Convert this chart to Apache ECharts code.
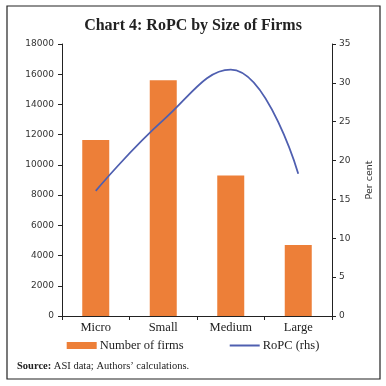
<!DOCTYPE html>
<html><head><meta charset="utf-8">
<style>html,body{margin:0;padding:0;background:#fff}#c{width:386px;height:386px}</style>
<script src="https://cdn.jsdelivr.net/npm/echarts@6/dist/echarts.min.js"></script>
</head><body><div id="c"></div>
<script>
const categories = ['Micro', 'Small', 'Medium', 'Large'];
const numberOfFirms = [11650, 15600, 9300, 4700];
const ropc = [16.1, 25.2, 31.7, 18.3];
const leftTicks = [0, 2000, 4000, 6000, 8000, 10000, 12000, 14000, 16000, 18000];
const rightTicks = [0, 5, 10, 15, 20, 25, 30, 35];

const chart = echarts.init(document.getElementById('c'), null, {renderer: 'canvas'});
const axisCol = '#222';
const serif = '"Liberation Serif", "DejaVu Serif", serif';
const sans = '"DejaVu Sans", sans-serif';
chart.setOption({
  animation: false,
  title: {
    text: 'Chart 4: RoPC by Size of Firms',
    left: 'center', top: 13,
    textStyle: {fontFamily: serif, fontWeight: 'bold', fontSize: 16, color: '#222'}
  },
  graphic: [
    {type: 'rect', shape: {x: 7, y: 6, width: 373, height: 373},
     style: {fill: 'none', stroke: '#222', lineWidth: 1.2}},
    {type: 'text', left: 17, top: 361,
     style: {text: '{b|Source:} ASI data; Authors\u2019 calculations.',
       rich: {b: {fontWeight: 'bold', fontFamily: serif, fontSize: 10.5, fill: '#222'}},
       fontFamily: serif, fontSize: 10.5, fill: '#222'}}
  ],
  legend: {
    bottom: 29, left: 'center', itemGap: 46, itemWidth: 30, itemHeight: 7,
    textStyle: {fontFamily: serif, fontSize: 12.5, color: '#222', padding: [0, 0, 0, -2]},
    data: [
      {name: 'Number of firms', icon: 'rect'},
      {name: 'RoPC (rhs)', icon: 'path://M0,0 L30,0 L30,2 L0,2 Z'}
    ]
  },
  grid: {left: 62, right: 54, top: 44, bottom: 70},
  xAxis: {
    type: 'category', data: categories,
    axisLine: {lineStyle: {color: axisCol}},
    axisTick: {show: true, alignWithLabel: false, length: 4, lineStyle: {color: axisCol}},
    axisLabel: {fontFamily: serif, fontSize: 12.5, color: '#222', margin: 5}
  },
  yAxis: [
    {type: 'value', min: 0, max: 18000, interval: 2000,
     axisLine: {show: true, lineStyle: {color: axisCol}},
     axisTick: {show: true, length: 4, lineStyle: {color: axisCol}},
     splitLine: {show: false},
     axisLabel: {fontFamily: sans, fontSize: 9, color: '#333', margin: 8,
       formatter: v => leftTicks.includes(v) ? String(v) : ''}},
    {type: 'value', min: 0, max: 35, interval: 5, position: 'right',
     name: 'Per cent', nameLocation: 'middle', nameGap: 33, nameRotate: 90,
     nameTextStyle: {fontFamily: sans, fontSize: 9.5, color: '#333'},
     axisLine: {show: true, lineStyle: {color: axisCol}},
     axisTick: {show: true, length: 4, lineStyle: {color: axisCol}},
     splitLine: {show: false},
     axisLabel: {fontFamily: sans, fontSize: 9, color: '#333', margin: 7,
       formatter: v => rightTicks.includes(v) ? String(v) : ''}}
  ],
  series: [
    {name: 'Number of firms', type: 'bar', data: numberOfFirms, barWidth: 27,
     itemStyle: {color: '#ED7F38'}},
    {name: 'RoPC (rhs)', type: 'line', yAxisIndex: 1, data: ropc, smooth: 0.45,
     symbol: 'none', lineStyle: {color: '#4F5FB0', width: 1.8},
     itemStyle: {color: '#4F5FB0'}}
  ]
});
</script></body></html>
